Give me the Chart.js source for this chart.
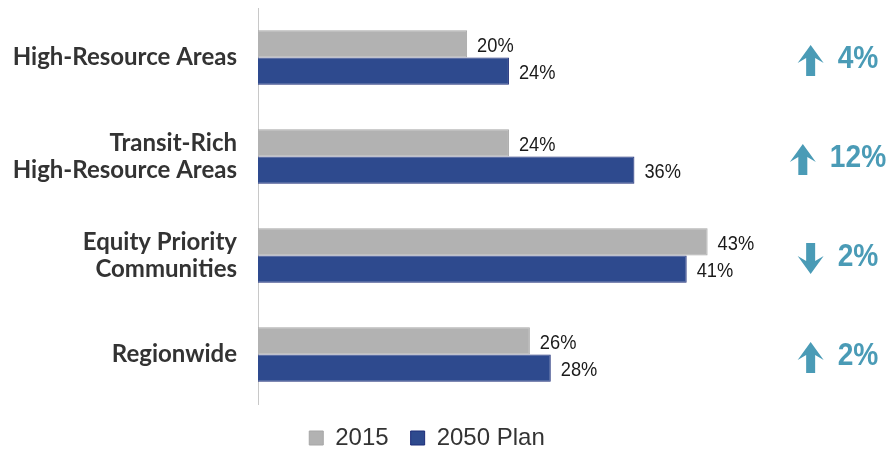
<!DOCTYPE html>
<html>
<head>
<meta charset="utf-8">
<script src="https://cdn.jsdelivr.net/npm/chart.js@4"></script>
<style>
  html, body { margin: 0; padding: 0; background: #fff; }
  #wrap { width: 893px; height: 453px; }
</style>
</head>
<body>
<div id="wrap"><canvas id="myChart"></canvas></div>
<script>
// ----- data -----
const categories = [
    'High-Resource Areas',
    ['Transit-Rich', 'High-Resource Areas'],
    ['Equity Priority', 'Communities'],
    'Regionwide'
];
const values2015 = [20, 24, 43, 26];
const values2050 = [24, 36, 41, 28];
const seriesNames = ['2015', '2050 Plan'];

const grey = '#b2b2b2';
const blue = '#2e4a8e';
const teal = '#4a9bb6';

// draws text squeezed horizontally (the original uses a narrow face)
function narrowText(ctx, txt, x, y, sx) {
    ctx.save();
    ctx.translate(x, y);
    ctx.scale(sx, 1);
    ctx.fillText(txt, 0, 0);
    ctx.restore();
}

// value labels at the end of each bar
const barLabels = {
    id: 'barLabels',
    afterDatasetsDraw(chart) {
        const ctx = chart.ctx;
        ctx.save();
        ctx.font = '21px "Liberation Sans"';
        ctx.fillStyle = '#1a1a1a';
        ctx.textAlign = 'left';
        ctx.textBaseline = 'middle';
        chart.data.datasets.forEach((ds, i) => {
            chart.getDatasetMeta(i).data.forEach((bar, j) => {
                narrowText(ctx, ds.data[j] + '%', bar.x + 10, bar.y + 2, 0.87);
            });
        });
        ctx.restore();
    }
};

// change arrows on the right, arrow + text centred as a group
const changeArrows = {
    id: 'changeArrows',
    afterDraw(chart) {
        const ctx = chart.ctx;
        const yScale = chart.scales.y;
        const sx = 0.88;
        ctx.save();
        ctx.font = 'bold 32px "Liberation Sans"';
        ctx.fillStyle = teal;
        ctx.textAlign = 'left';
        ctx.textBaseline = 'middle';
        categories.forEach((c, i) => {
            const diff = values2050[i] - values2015[i];
            const cy = yScale.getPixelForValue(i) + 1;
            const txt = Math.abs(diff) + '%';
            const w = ctx.measureText(txt).width * sx;
            const aw = 26, gap = 14;
            const left = 838 - (aw + gap + w) / 2;
            narrowText(ctx, txt, left + aw + gap, cy + 1, sx);
            const ax = left + aw / 2;
            const up = diff >= 0;
            const h = 31, hw = 13, sw = 4.5, hh = 18;
            const top = cy - h / 2 + 2, bot = cy + h / 2 + 2;
            ctx.beginPath();
            if (up) {
                ctx.moveTo(ax, top);
                ctx.lineTo(ax + hw, top + hh);
                ctx.lineTo(ax + sw, top + hh - 5);
                ctx.lineTo(ax + sw, bot);
                ctx.lineTo(ax - sw, bot);
                ctx.lineTo(ax - sw, top + hh - 5);
                ctx.lineTo(ax - hw, top + hh);
            } else {
                ctx.moveTo(ax, bot);
                ctx.lineTo(ax + hw, bot - hh);
                ctx.lineTo(ax + sw, bot - hh + 5);
                ctx.lineTo(ax + sw, top);
                ctx.lineTo(ax - sw, top);
                ctx.lineTo(ax - sw, bot - hh + 5);
                ctx.lineTo(ax - hw, bot - hh);
            }
            ctx.closePath();
            ctx.fill();
        });
        ctx.restore();
    }
};

const config = {
    type: 'bar',
    data: {
        labels: categories,
        datasets: [
            { label: seriesNames[0], data: values2015, backgroundColor: grey, borderColor: '#a6a6a6', borderWidth: 1 },
            { label: seriesNames[1], data: values2050, backgroundColor: blue, borderColor: '#1c2c78', borderWidth: 1 }
        ]
    },
    options: {
        indexAxis: 'y',
        responsive: true,
        maintainAspectRatio: false,
        animation: false,
        layout: { padding: { top: 8, right: 39, bottom: -7, left: 0 } },
        datasets: { bar: { categoryPercentage: 0.55, barPercentage: 1.0 } },
        scales: {
            x: { display: false, min: 0, max: 57 },
            y: {
                grid: { display: false, drawTicks: false },
                border: { display: true, color: '#c8c8c8', width: 1 },
                ticks: {
                    color: '#333',
                    padding: 21,
                    font: { family: 'Lato', size: 24, weight: 'bold', lineHeight: 1.13 }
                },
                afterFit(scale) {
                    scale.width = 258;
                    scale.paddingTop = 0;
                    scale.paddingBottom = 0;
                }
            }
        },
        plugins: {
            tooltip: { enabled: false },
            legend: {
                position: 'bottom',
                labels: {
                    color: '#333',
                    boxWidth: 14,
                    boxHeight: 14,
                    padding: 22,
                    font: { family: '"Liberation Sans"', size: 24 }
                }
            }
        }
    },
    plugins: [barLabels, changeArrows]
};

const myChart = new Chart(document.getElementById('myChart').getContext('2d'), config);
</script>
</body>
</html>
